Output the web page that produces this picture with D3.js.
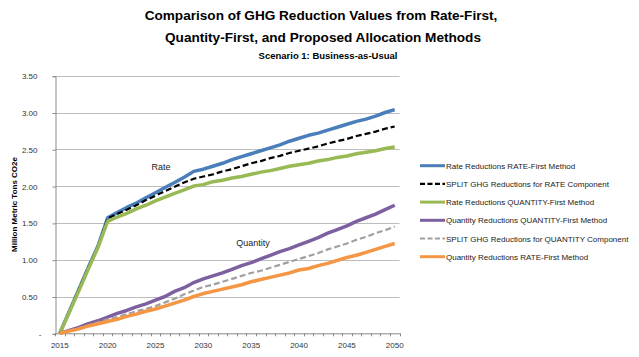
<!DOCTYPE html>
<html><head><meta charset="utf-8">
<script src="https://cdn.jsdelivr.net/npm/d3@7"></script>
<style>body{margin:0;background:#fff}svg{display:block}text{font-family:"Liberation Sans",Arial,sans-serif}</style>
</head><body>
<svg id="c" width="639" height="357"></svg>
<script>
const years = d3.range(2015, 2051);
const xTickLabels = [2015, 2020, 2025, 2030, 2035, 2040, 2045, 2050];
const yTicks = [0, 0.5, 1.0, 1.5, 2.0, 2.5, 3.0, 3.5];
const seriesNames = [
  "Rate Reductions RATE-First Method",
  "SPLIT GHG Reductions for RATE Component",
  "Rate Reductions QUANTITY-First Method",
  "Quantity Reductions QUANTITY-First Method",
  "SPLIT GHG Reductions for QUANTITY Component",
  "Quantity Reductions RATE-First Method"
];
const rateRateFirst = [0,0.30,0.60,0.90,1.19,1.57,1.64,1.71,1.77,1.84,1.91,1.98,2.05,2.12,2.20,2.23,2.27,2.31,2.36,2.40,2.44,2.48,2.52,2.56,2.61,2.65,2.69,2.72,2.76,2.80,2.84,2.88,2.91,2.95,3.00,3.04];
const splitRate = [0,0.30,0.60,0.90,1.18,1.56,1.62,1.68,1.74,1.81,1.87,1.93,1.99,2.05,2.10,2.13,2.16,2.20,2.23,2.27,2.31,2.34,2.38,2.41,2.45,2.48,2.51,2.54,2.58,2.61,2.64,2.68,2.71,2.74,2.78,2.81];
const rateQuantityFirst = [0,0.29,0.58,0.88,1.17,1.52,1.58,1.63,1.69,1.74,1.80,1.85,1.90,1.95,2.00,2.02,2.06,2.08,2.11,2.13,2.16,2.19,2.21,2.24,2.27,2.29,2.31,2.34,2.36,2.39,2.41,2.44,2.46,2.48,2.51,2.53];
const quantityQuantityFirst = [0,0.04,0.08,0.13,0.17,0.22,0.27,0.31,0.36,0.40,0.45,0.50,0.57,0.62,0.69,0.74,0.78,0.82,0.87,0.92,0.96,1.01,1.06,1.11,1.15,1.20,1.25,1.30,1.36,1.41,1.46,1.52,1.57,1.62,1.68,1.74];
const splitQuantity = [0,0.04,0.07,0.11,0.15,0.19,0.22,0.26,0.30,0.33,0.37,0.42,0.47,0.53,0.58,0.63,0.66,0.70,0.74,0.78,0.82,0.85,0.89,0.93,0.97,1.01,1.05,1.09,1.14,1.18,1.22,1.27,1.31,1.36,1.40,1.45];
const quantityRateFirst = [0,0.03,0.06,0.10,0.13,0.16,0.19,0.23,0.26,0.30,0.33,0.37,0.41,0.45,0.50,0.54,0.57,0.60,0.63,0.66,0.70,0.73,0.76,0.79,0.82,0.86,0.88,0.92,0.95,0.99,1.03,1.06,1.10,1.14,1.18,1.22];
const seriesValues = [rateRateFirst, splitRate, rateQuantityFirst, quantityQuantityFirst, splitQuantity, quantityRateFirst];
const colors = ["#4a7ebb", "#000000", "#98b954", "#7d60a0", "#a0a0a0", "#f49643"];
const dashes = [null, "6,3", null, null, "6,3", null];
const widths = [3.5, 2.2, 3.5, 3.5, 2.2, 3.5];

const svg = d3.select("#c");
const L = 55, R = 399.5, T = 75.7, B = 333.3;
const x = d3.scaleBand().domain(years).range([L, R]);
const y = d3.scaleLinear().domain([0, 3.5]).range([B, T]);

// titles
svg.append("text").attr("x", 321).attr("y", 20).attr("text-anchor", "middle")
  .style("font-weight", "bold").style("font-size", "13.6px").attr("fill", "#000")
  .text("Comparison of GHG Reduction Values from Rate-First,");
svg.append("text").attr("x", 323).attr("y", 42).attr("text-anchor", "middle")
  .style("font-weight", "bold").style("font-size", "13.6px").attr("fill", "#000")
  .text("Quantity-First, and Proposed Allocation Methods");
svg.append("text").attr("x", 328).attr("y", 59).attr("text-anchor", "middle")
  .style("font-weight", "bold").style("font-size", "9.5px").attr("fill", "#000")
  .text("Scenario 1: Business-as-Usual");

// gridlines
svg.append("g").selectAll("line").data(yTicks.slice(1)).join("line")
  .attr("x1", L).attr("x2", R).attr("y1", d => Math.round(y(d)) + 0.5).attr("y2", d => Math.round(y(d)) + 0.5)
  .attr("stroke", "#bdbdbd").attr("stroke-width", 1);

// y axis
const yAxis = d3.axisLeft(y).tickValues(yTicks).tickSize(3)
  .tickFormat(d => d === 0 ? "-" : d3.format(".2f")(d));
const gy = svg.append("g").attr("transform", `translate(${L + 0.5},0.5)`).call(yAxis);
gy.select(".domain").attr("stroke", "#8a8a8a");
gy.selectAll(".tick line").attr("stroke", "#8a8a8a");
gy.selectAll(".tick text").attr("fill", "#333").style("font-size", "8px").attr("x", -18);
gy.selectAll(".tick").filter(d => d === 0).select("text").attr("x", -15.5).attr("text-anchor", "middle");

// x axis
const xAxis = d3.axisBottom(x).tickValues(xTickLabels).tickSize(0).tickPadding(9);
const gx = svg.append("g").attr("transform", `translate(0,${B})`).call(xAxis);
gx.select(".domain").attr("stroke", "#8a8a8a");
gx.selectAll(".tick text").attr("fill", "#333").style("font-size", "8px");
// category boundary tick marks
svg.append("g").selectAll("line").data(years.concat([2051])).join("line")
  .attr("x1", d => Math.round(d === 2051 ? R : x(d)) + 0.5)
  .attr("x2", d => Math.round(d === 2051 ? R : x(d)) + 0.5)
  .attr("y1", B).attr("y2", B + 3).attr("stroke", "#8a8a8a");

// y title
svg.append("text").attr("transform", `translate(17,${(T + B) / 2}) rotate(-90)`)
  .attr("text-anchor", "middle").style("font-weight", "bold").style("font-size", "8px")
  .attr("fill", "#000").text("Million Metric Tons CO2e");

// lines
const line = d3.line().x((d, i) => x(years[i]) + x.bandwidth() / 2).y(d => y(d));
svg.append("g").selectAll("path").data(seriesValues).join("path")
  .attr("d", d => line(d)).attr("fill", "none")
  .attr("stroke", (d, i) => colors[i])
  .attr("stroke-width", (d, i) => widths[i])
  .attr("stroke-dasharray", (d, i) => dashes[i])
  .attr("stroke-linejoin", "round");

// annotations
svg.append("text").attr("x", 161).attr("y", 170).attr("text-anchor", "middle")
  .style("font-size", "9px").attr("fill", "#222").text("Rate");
svg.append("text").attr("x", 253).attr("y", 246).attr("text-anchor", "middle")
  .style("font-size", "9px").attr("fill", "#222").text("Quantity");

// legend
const lg = svg.append("g");
seriesNames.forEach((n, i) => {
  const ly = 165.7 + i * 18.2;
  lg.append("line").attr("x1", 420).attr("x2", 445).attr("y1", ly).attr("y2", ly)
    .attr("stroke", colors[i]).attr("stroke-width", widths[i] === 3.5 ? 3 : 2.2)
    .attr("stroke-dasharray", dashes[i] ? "5,2.5" : null);
  lg.append("text").attr("x", 446).attr("y", ly + 3).style("font-size", "8px")
    .attr("fill", "#222").text(n);
});
</script>
</body></html>
